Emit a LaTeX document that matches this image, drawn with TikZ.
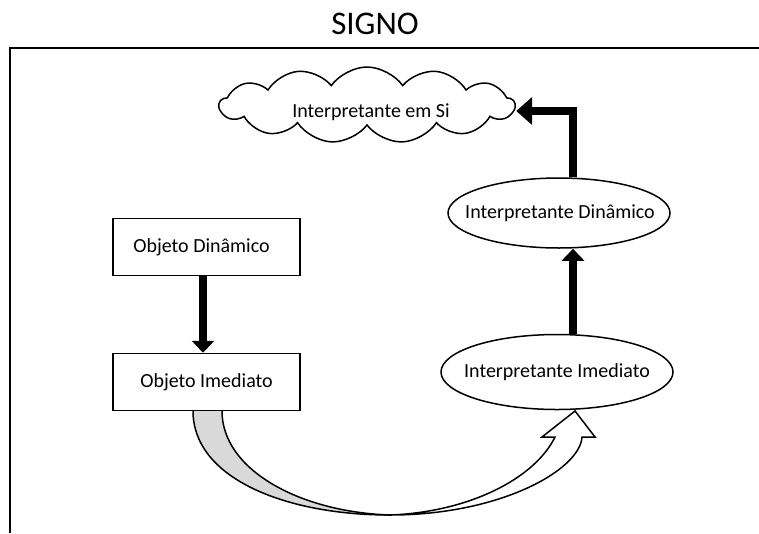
\documentclass[tikz,border=0pt]{standalone}
\usepackage{fontspec}
\setmainfont{Carlito}
\usetikzlibrary{shapes.geometric,shapes.symbols,arrows.meta,calc}
\definecolor{lightshade}{HTML}{D9D9D9}
\begin{document}
\begin{tikzpicture}[x=1pt,y=-1pt,
  txt/.style={font=\fontsize{20}{22}\selectfont},
  box/.style={draw, line width=1.5pt, minimum width=187pt, minimum height=57pt, inner sep=0pt, txt},
  ell/.style={draw, ellipse, line width=1.5pt, inner sep=0pt, txt},
  bigarrow/.style={line width=8pt, line join=miter, -{Triangle[width=22pt,length=12pt]}},
  elbowarrow/.style={line width=8pt, line join=miter, -{Triangle[width=27pt,length=16pt]}},
  curvearrow/.style={draw, line width=1.5pt, line join=miter},
]
\useasboundingbox (0,0) rectangle (759,533);
\node[font=\fontsize{33}{38}\selectfont] (title) at (375,24) {SIGNO};
\draw[line width=2pt] (10,533) -- (10,48) -- (759,48);
\node[cloud, draw, cloud puffs=13, cloud puff arc=110, aspect=4, minimum width=295pt, minimum height=76pt, line width=1.5pt, inner sep=0pt, txt] (cloud) at (367,105) {\makebox[0pt]{\smash{\raisebox{-12pt}{\hspace{8pt}Interpretante em Si}}}};
\node[ell, minimum width=222pt, minimum height=70pt] (idin) at (559,213) {\makebox[0pt]{\hspace{2pt}Interpretante Dinâmico}};
\node[ell, minimum width=232pt, minimum height=75pt] (iimm) at (557,372) {\makebox[0pt]{Interpretante Imediato}};
\node[box] (odin) at (206.5,247) {\makebox[0pt]{\hspace{-10pt}Objeto Dinâmico}};
\node[box] (oimm) at (206.5,382) {\makebox[0pt]{Objeto Imediato}};
\coordinate (ax) at (573,0);
\coordinate (bx) at (203,0);
% curved block arrow
\fill[lightshade] (193,411) .. controls (193,478) and (285,515) .. (390,515)
  .. controls (300,512) and (222,470) .. (222,411) -- cycle;
\draw[curvearrow] (193,411) .. controls (193,478) and (285,515) .. (390,515);
\draw[curvearrow] (390,515) .. controls (300,512) and (222,470) .. (222,411);
\filldraw[curvearrow, fill=white] (390,515) .. controls (500,515) and (580,470) .. (582,437)
  -- (595,437) -- (575,411) -- (542,437) -- (555,437)
  .. controls (535,478) and (470,512) .. (390,515);
% black arrows
\draw[bigarrow] (odin.south -| bx) -- (oimm.north -| bx);
\draw[bigarrow] (iimm.north -| ax) -- (idin.south -| ax);
\draw[elbowarrow] (idin.north -| ax) |- ([yshift=-6pt]cloud.east);
\end{tikzpicture}
\end{document}
